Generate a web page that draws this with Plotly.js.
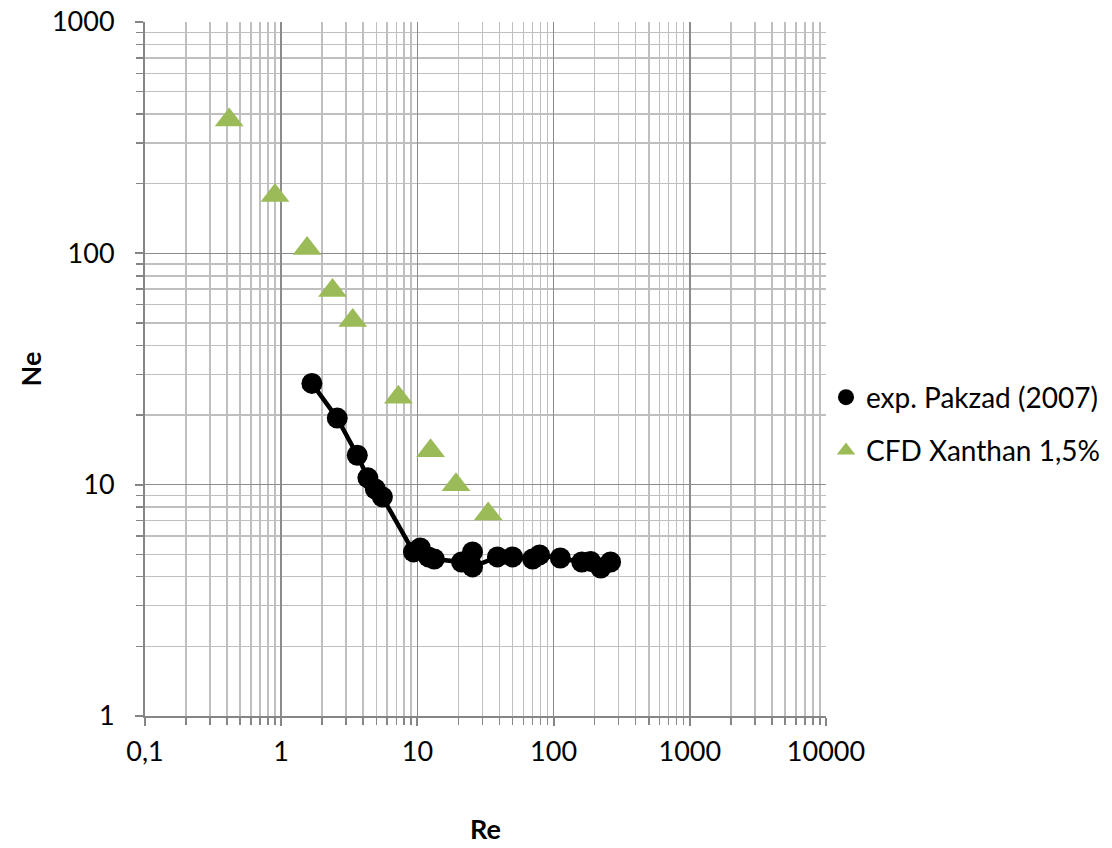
<!DOCTYPE html>
<html>
<head>
<meta charset="utf-8">
<script src="https://cdn.plot.ly/plotly-3.0.1.min.js"></script>
<style>html,body{margin:0;padding:0;background:#fff;}#chart{width:1112px;height:848px;}</style>
</head>
<body>
<div id="chart"></div>
<script>
// Experimental data, Pakzad (2007)
var expRe = [1.68, 2.58, 3.62, 4.33, 4.91, 5.53, 9.35, 10.5, 12.05, 13.3, 21.1, 25.4, 25.4, 38.7, 50, 70.1, 78.9, 112, 161, 187, 222, 262];
var expNe = [27.4, 19.4, 13.4, 10.7, 9.58, 8.85, 5.12, 5.33, 4.87, 4.77, 4.63, 5.12, 4.41, 4.87, 4.87, 4.77, 4.97, 4.82, 4.63, 4.66, 4.36, 4.63];
// CFD Xanthan 1,5%
var cfdRe = [0.415, 0.90, 1.55, 2.38, 3.35, 7.25, 12.5, 19.2, 33.1];
var cfdNe = [377, 178, 104.8, 69, 51.2, 23.9, 14.0, 10.0, 7.47];

var xTickVals = [0.1, 1, 10, 100, 1000, 10000];
var xTickText = ['0,1', '1', '10', '100', '1000', '10000'];
var yTickVals = [1, 10, 100, 1000];
var yTickText = ['1', '10', '100', '1000'];

var FONT = 'Lato, "Open Sans", sans-serif';

var traces = [
  {
    x: expRe, y: expNe, type: 'scatter', mode: 'lines',
    line: {color: '#000000', width: 4.5},
    showlegend: false, legendgroup: 'a'
  },
  {
    x: expRe, y: expNe, name: 'exp. Pakzad (2007)', type: 'scatter', mode: 'markers',
    marker: {symbol: 'circle', size: 21, color: '#000000'},
    legendgroup: 'a'
  },
  {
    x: cfdRe, y: cfdNe, name: 'CFD Xanthan 1,5%', type: 'scatter', mode: 'markers',
    marker: {symbol: 'triangle-up', size: 25, color: '#9BBB59'},
    legendgroup: 'b'
  }
];

var gridMinor = '#bfbfbf';
var gridMajor = '#8c8c8c';

var layout = {
  width: 1112, height: 848,
  paper_bgcolor: '#ffffff', plot_bgcolor: '#ffffff',
  margin: {l: 145, r: 286, t: 22, b: 132, autoexpand: false},
  font: {family: FONT, size: 27, color: '#000000'},
  showlegend: true,
  legend: {
    x: 1.0, xanchor: 'left', y: 0.495, yanchor: 'top',
    font: {family: FONT, size: 28, color: '#000'},
    traceorder: 'grouped', tracegroupgap: 14,
    bgcolor: 'rgba(0,0,0,0)', borderwidth: 0
  },
  xaxis: {
    type: 'log', range: [-1, 4],
    tickmode: 'array', tickvals: xTickVals, ticktext: xTickText,
    showgrid: true, gridcolor: gridMajor, gridwidth: 1.5,
    showline: true, linecolor: '#868686', linewidth: 2,
    ticks: 'outside', ticklen: 8, tickcolor: '#868686', tickwidth: 2,
    ticklabelstandoff: 3,
    tickfont: {family: FONT, size: 27, color: '#000'},
    minor: {dtick: 'D1', showgrid: true, gridcolor: gridMinor, gridwidth: 1.5, ticks: 'outside', ticklen: 7, tickcolor: '#868686', tickwidth: 1.5},
    zeroline: false, mirror: false,
    title: {text: '<b>Re</b>', font: {family: FONT, size: 27, color: '#000'}, standoff: 54}
  },
  yaxis: {
    type: 'log', range: [0, 3],
    tickmode: 'array', tickvals: yTickVals, ticktext: yTickText,
    showgrid: true, gridcolor: gridMajor, gridwidth: 1.5,
    showline: true, linecolor: '#868686', linewidth: 2,
    ticks: 'outside', ticklen: 8, tickcolor: '#868686', tickwidth: 2,
    ticklabelstandoff: 15,
    tickfont: {family: FONT, size: 27, color: '#000'},
    minor: {dtick: 'D1', showgrid: true, gridcolor: gridMinor, gridwidth: 1.5, ticks: 'outside', ticklen: 7, tickcolor: '#868686', tickwidth: 1.5},
    zeroline: false, mirror: false,
    title: {text: '<b>Ne</b>', font: {family: FONT, size: 27, color: '#000'}, standoff: 3}
  }
};

Plotly.newPlot('chart', traces, layout, {displayModeBar: false, staticPlot: true});
</script>
</body>
</html>
